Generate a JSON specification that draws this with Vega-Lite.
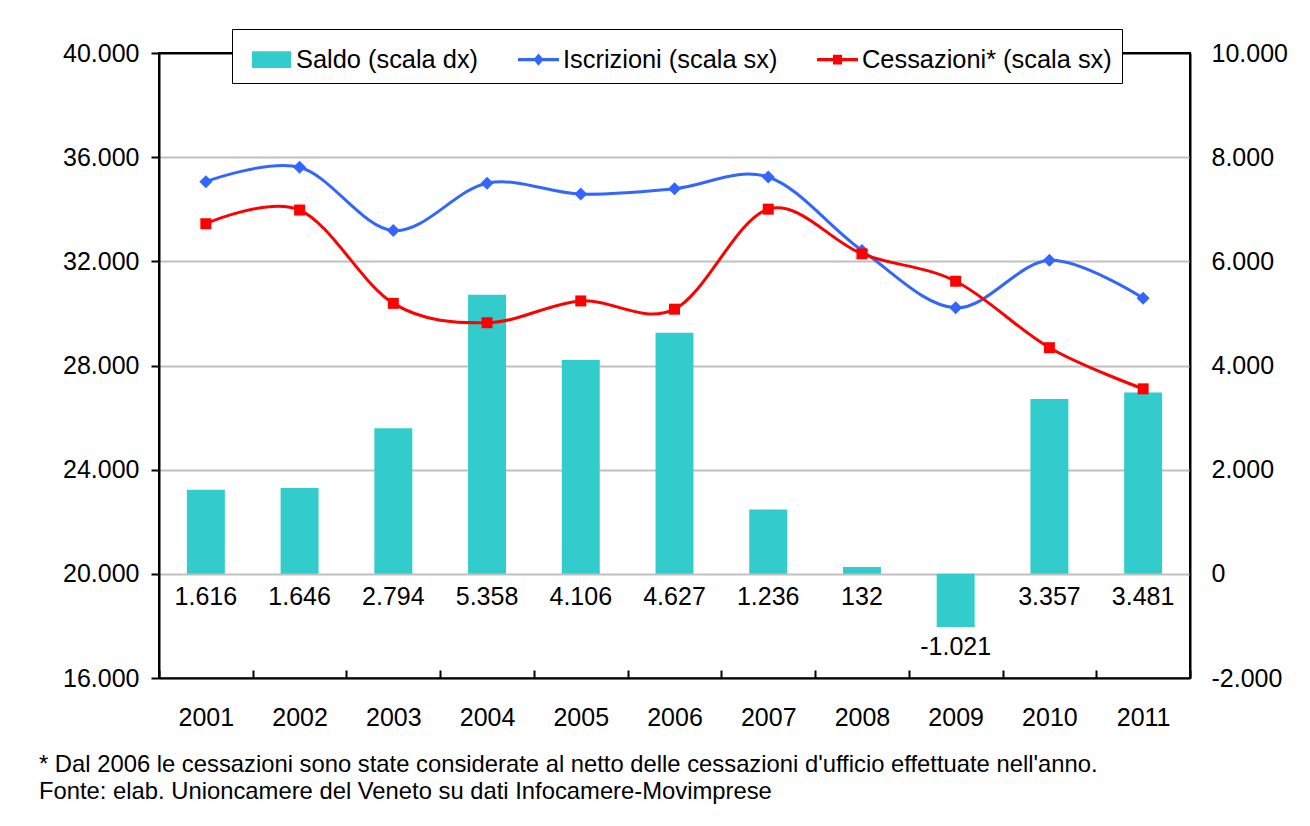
{
  "$schema": "https://vega.github.io/schema/vega-lite/v6.json",
  "width": 1031,
  "height": 625,
  "autosize": {"type": "none"},
  "padding": {"left": 159, "top": 53, "right": 120, "bottom": 148},
  "background": "white",
  "config": {
    "font": "Liberation Sans",
    "locale": {"number": {"decimal": ",", "thousands": ".", "grouping": [3], "currency": ["", " €"], "minus": "-"}},
    "view": {"stroke": "black", "strokeWidth": 2},
    "axis": {"labelColor": "black", "labelFontSize": 25, "labelFont": "Liberation Sans", "domainColor": "black", "domainWidth": 2, "tickColor": "black", "tickWidth": 2}
  },
  "title": {
    "text": ["* Dal 2006 le cessazioni sono state considerate al netto delle cessazioni d'ufficio effettuate nell'anno.", "Fonte: elab. Unioncamere del Veneto su dati Infocamere-Movimprese"],
    "orient": "bottom",
    "anchor": "start",
    "frame": "group",
    "fontSize": 23.8,
    "fontWeight": "normal",
    "font": "Liberation Sans",
    "color": "black",
    "lineHeight": 27,
    "offset": 23,
    "dx": -120
  },
  "data": {
    "values": [
      {"year": "2001", "saldo": 1616, "iscrizioni": 35060, "cessazioni": 33444},
      {"year": "2002", "saldo": 1646, "iscrizioni": 35615, "cessazioni": 33969},
      {"year": "2003", "saldo": 2794, "iscrizioni": 33180, "cessazioni": 30386},
      {"year": "2004", "saldo": 5358, "iscrizioni": 35000, "cessazioni": 29642},
      {"year": "2005", "saldo": 4106, "iscrizioni": 34585, "cessazioni": 30479},
      {"year": "2006", "saldo": 4627, "iscrizioni": 34790, "cessazioni": 30163},
      {"year": "2007", "saldo": 1236, "iscrizioni": 35240, "cessazioni": 34004},
      {"year": "2008", "saldo": 132, "iscrizioni": 32420, "cessazioni": 32288},
      {"year": "2009", "saldo": -1021, "iscrizioni": 30215, "cessazioni": 31236},
      {"year": "2010", "saldo": 3357, "iscrizioni": 32040, "cessazioni": 28683},
      {"year": "2011", "saldo": 3481, "iscrizioni": 30585, "cessazioni": 27104}
    ]
  },
  "layer": [
    {
      "encoding": {
        "x": {
          "field": "year", "type": "ordinal",
          "scale": {"paddingInner": 0, "paddingOuter": 0},
          "axis": {"title": null, "labelAngle": 0, "tickBand": "extent", "tickSize": -8, "labelPadding": 35, "grid": false}
        }
      },
      "layer": [
        {
          "mark": {"type": "bar", "color": "#33CCCC", "width": {"band": 0.405}},
          "encoding": {
            "y": {
              "field": "saldo", "type": "quantitative",
              "scale": {"domain": [-2000, 10000], "nice": false, "zero": false},
              "axis": {"orient": "right", "title": null, "values": [-2000, 0, 2000, 4000, 6000, 8000, 10000], "format": ",.0f", "grid": false, "ticks": false, "labelPadding": 21}
            }
          }
        },
        {
          "transform": [{"filter": "datum.saldo >= 0"}],
          "mark": {"type": "text", "baseline": "middle", "dy": 23, "fontSize": 25, "color": "black", "font": "Liberation Sans"},
          "encoding": {
            "y": {"datum": 0, "type": "quantitative"},
            "text": {"field": "saldo", "type": "quantitative", "format": ",.0f"}
          }
        },
        {
          "transform": [{"filter": "datum.saldo < 0"}],
          "mark": {"type": "text", "baseline": "middle", "dy": 20, "fontSize": 25, "color": "black", "font": "Liberation Sans"},
          "encoding": {
            "y": {"field": "saldo", "type": "quantitative"},
            "text": {"field": "saldo", "type": "quantitative", "format": ",.0f"}
          }
        }
      ]
    },
    {
      "encoding": {
        "x": {"field": "year", "type": "ordinal"}
      },
      "layer": [
        {
          "mark": {"type": "line", "color": "#3366FF", "strokeWidth": 3, "interpolate": "cardinal",
                   "point": {"shape": "diamond", "size": 170, "filled": true, "color": "#3366FF", "opacity": 1}},
          "encoding": {
            "y": {
              "field": "iscrizioni", "type": "quantitative",
              "scale": {"domain": [16000, 40000], "nice": false, "zero": false},
              "axis": {
                "orient": "left", "title": null, "values": [16000, 20000, 24000, 28000, 32000, 36000, 40000], "format": ",.0f",
                "grid": true, "gridWidth": 2,
                "gridColor": {"condition": {"test": "datum.value === 40000", "value": "black"}, "value": "#C0C0C0"},
                "tickSize": 8, "labelPadding": 12
              }
            }
          }
        },
        {
          "mark": {"type": "line", "color": "#FF0000", "strokeWidth": 3, "interpolate": "cardinal",
                   "point": {"shape": "square", "size": 121, "filled": true, "color": "#FF0000", "opacity": 1}},
          "encoding": {
            "y": {"field": "cessazioni", "type": "quantitative"}
          }
        }
      ]
    },
    {
      "data": {"values": [{"series": "Saldo (scala dx)"}, {"series": "Iscrizioni (scala sx)"}, {"series": "Cessazioni* (scala sx)"}]},
      "transform": [{"filter": "false"}],
      "mark": {"type": "point", "filled": true, "opacity": 1, "strokeWidth": 0},
      "encoding": {
        "color": {
          "field": "series", "type": "nominal",
          "scale": {"domain": ["Saldo (scala dx)", "Iscrizioni (scala sx)", "Cessazioni* (scala sx)"], "range": ["#33CCCC", "#3366FF", "#FF0000"]},
          "legend": {
            "orient": "none", "legendX": 73, "legendY": -24, "direction": "horizontal", "title": null,
            "labelFontSize": 25.4, "labelFont": "Liberation Sans", "labelColor": "black", "labelLimit": 0,
            "symbolSize": 1681, "symbolStrokeWidth": 0, "symbolOpacity": 1, "labelOffset": 4, "columnPadding": 30,
            "padding": 10, "symbolOffset": 9, "strokeColor": "black", "fillColor": "white"
          }
        },
        "shape": {
          "field": "series", "type": "nominal",
          "scale": {"domain": ["Saldo (scala dx)", "Iscrizioni (scala sx)", "Cessazioni* (scala sx)"],
                    "range": ["M-0.95,-0.41H0.95V0.41H-0.95Z", "M-1,-0.08H1V0.08H-1ZM0,-0.3L0.25,0L0,0.3L-0.25,0Z", "M-1,-0.08H1V0.08H-1ZM-0.22,-0.24H0.22V0.24H-0.22Z"]},
          "legend": {
            "orient": "none", "legendX": 73, "legendY": -24, "direction": "horizontal", "title": null,
            "labelFontSize": 25.4, "labelFont": "Liberation Sans", "labelColor": "black", "labelLimit": 0,
            "symbolSize": 1681, "symbolStrokeWidth": 0, "symbolOpacity": 1, "labelOffset": 4, "columnPadding": 30,
            "padding": 10, "symbolOffset": 9, "strokeColor": "black", "fillColor": "white"
          }
        }
      }
    }
  ],
  "resolve": {"scale": {"y": "independent"}}
}
